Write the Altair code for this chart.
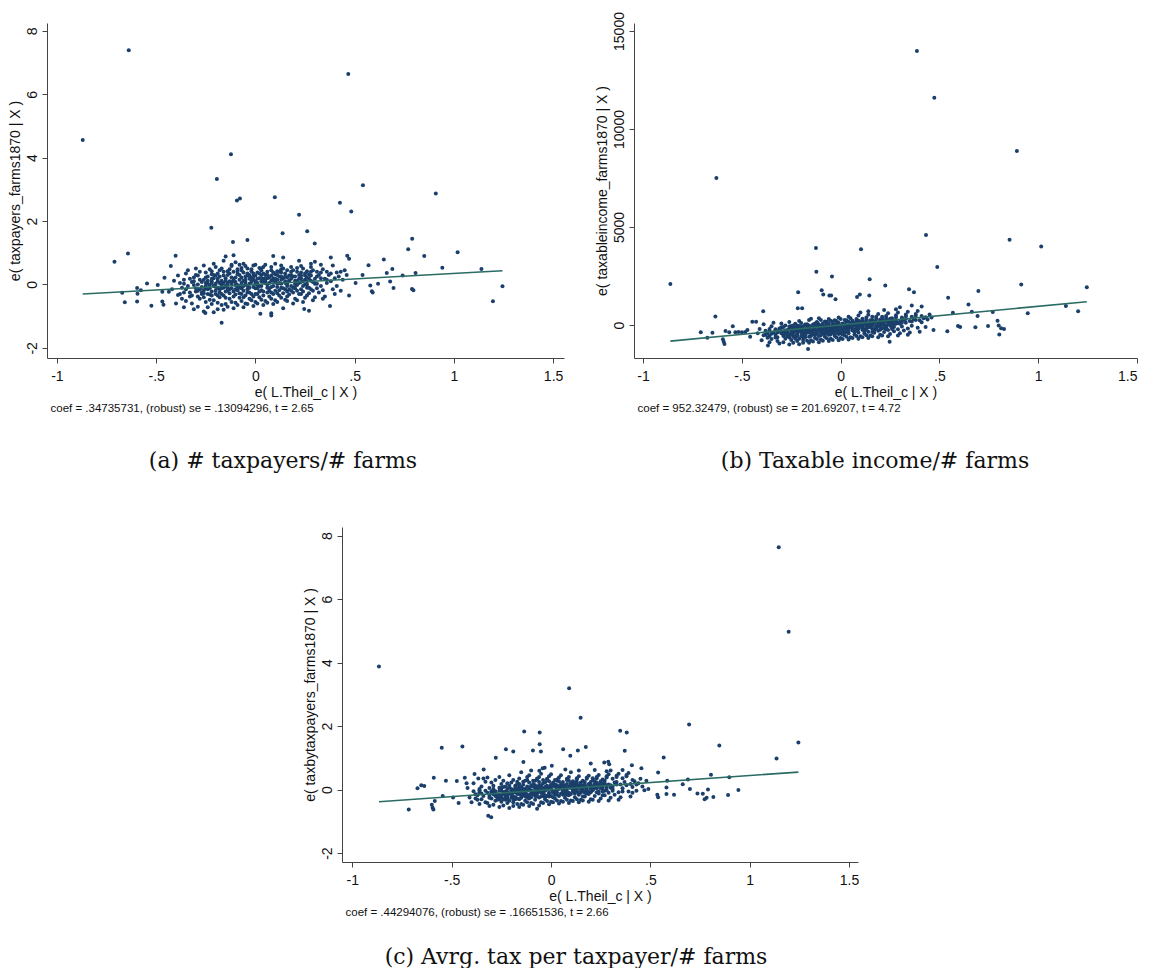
import altair as alt
import pandas as pd

NAVY = "#1a3f6b"
TEAL = "#2a6b63"
SANS = "Liberation Sans"
SERIF = "DejaVu Serif"

X_TICKS = [-1, -0.5, 0, 0.5, 1, 1.5]
X_TITLE = "e( L.Theil_c | X )"

# ---------------- panel (a) ----------------
A_COEF = 0.34735731
A_YTITLE = "e( taxpayers_farms1870 | X )"
A_YTICKS = [-2, 0, 2, 4, 6, 8]
A_CAPTION = "coef = .34735731, (robust) se = .13094296, t = 2.65"
A_LABEL = "(a) # taxpayers/# farms"
A_OUTLIERS = [
    (-0.87, 4.56), (-0.638, 7.39), (0.468, 6.64), (-0.123, 4.11), (-0.194, 3.33),
    (-0.093, 2.65), (-0.078, 2.71), (0.098, 2.75), (0.542, 3.13), (0.426, 2.58),
    (0.483, 2.30), (0.909, 2.87), (0.22, 2.20), (-0.222, 1.79), (0.137, 1.62),
    (0.261, 1.68), (-0.113, 1.34), (-0.04, 1.40), (0.299, 1.29), (0.79, 1.44),
    (0.77, 1.11), (1.019, 1.02), (0.851, 0.90), (0.647, 0.79), (0.463, 0.91),
    (0.472, 0.81), (0.570, 0.61), (0.942, 0.53), (1.139, 0.49), (0.69, 0.49),
    (0.742, 0.28), (0.807, 0.36), (0.662, 0.36), (0.679, 0.09), (0.618, 0.02),
    (0.696, -0.11), (0.579, -0.03), (0.587, -0.21), (0.591, -0.25), (0.789, -0.14),
    (0.796, -0.18), (1.245, -0.06), (1.197, -0.53), (0.54, 0.30), (0.505, 0.05),
    (0.472, -0.35), (0.376, -0.68), (0.27, -0.83), (0.246, -0.77), (0.025, -0.92),
    (0.08, -0.98), (0.08, -0.91), (-0.17, -1.21), (-0.252, -0.90), (-0.71, 0.72),
    (-0.642, 0.98), (-0.402, 0.91), (-0.426, 0.58), (-0.671, -0.26), (-0.658, -0.56),
    (-0.596, -0.11), (-0.594, -0.29), (-0.596, -0.54), (-0.546, 0.03), (-0.524, -0.67),
    (-0.492, -0.02), (-0.469, -0.23), (-0.469, -0.54), (-0.463, -0.64), (-0.458, 0.21),
    (-0.436, -0.23), (-0.577, -0.18),
]
A_CLOUD = [
    (-0.41, 0.12), (-0.39, -0.33), (-0.40, -0.60), (-0.38, 0.05), (-0.42, -0.15), (-0.37, -0.45), (-0.39, 0.28),
    (-0.36, -0.72), (-0.35, 0.35), (-0.34, -0.05), (-0.36, -0.25), (-0.33, 0.18), (-0.35, -0.52), (-0.34, 0.45),
    (-0.37, -0.10), (-0.33, -0.38), (-0.36, 0.02),
    (-0.31, -0.78), (-0.30, 0.50), (-0.29, -0.20), (-0.31, 0.10), (-0.28, -0.45), (-0.30, 0.30), (-0.32, -0.60),
    (-0.29, 0.00), (-0.27, -0.30), (-0.31, 0.22), (-0.28, 0.40), (-0.30, -0.12), (-0.29, -0.70), (-0.32, -0.35),
    (-0.26, -0.85), (-0.25, 0.38), (-0.24, -0.15), (-0.26, 0.15), (-0.23, -0.48), (-0.25, 0.05), (-0.27, -0.25),
    (-0.24, 0.25), (-0.22, -0.62), (-0.26, -0.40), (-0.23, 0.48), (-0.25, -0.05), (-0.24, -0.72), (-0.22, 0.10),
    (-0.26, 0.60), (-0.23, -0.32), (-0.25, -0.55), (-0.22, 0.32),
    (-0.21, -0.88), (-0.20, 0.55), (-0.19, -0.10), (-0.21, 0.20), (-0.18, -0.40), (-0.20, 0.02), (-0.22, -0.22),
    (-0.19, 0.35), (-0.17, -0.65), (-0.21, -0.50), (-0.18, 0.45), (-0.20, -0.30), (-0.19, -0.78), (-0.17, 0.12),
    (-0.21, 0.65), (-0.18, -0.15), (-0.20, 0.28), (-0.19, -0.58), (-0.17, -0.02), (-0.22, 0.42),
    (-0.16, 0.75), (-0.15, -0.05), (-0.14, 0.30), (-0.16, -0.35), (-0.13, 0.10), (-0.15, -0.62), (-0.17, 0.50),
    (-0.14, -0.20), (-0.12, 0.62), (-0.16, -0.80), (-0.13, -0.45), (-0.15, 0.20), (-0.14, -0.70), (-0.12, 0.02),
    (-0.16, 0.40), (-0.13, -0.28), (-0.15, 0.88), (-0.14, -0.12), (-0.12, -0.55), (-0.16, 0.05), (-0.13, 0.48),
    (-0.15, -0.42),
    (-0.11, 0.92), (-0.10, -0.02), (-0.09, 0.32), (-0.11, -0.38), (-0.08, 0.15), (-0.10, -0.58), (-0.12, 0.58),
    (-0.09, -0.18), (-0.07, 0.45), (-0.11, -0.75), (-0.08, -0.42), (-0.10, 0.22), (-0.09, -0.65), (-0.07, 0.05),
    (-0.11, 0.40), (-0.08, -0.28), (-0.10, 0.70), (-0.09, -0.08), (-0.07, -0.52), (-0.11, 0.10), (-0.08, 0.62),
    (-0.10, -0.32),
    (-0.06, 0.65), (-0.05, 0.00), (-0.04, 0.35), (-0.06, -0.40), (-0.03, 0.18), (-0.05, -0.60), (-0.07, 0.52),
    (-0.04, -0.15), (-0.02, 0.42), (-0.06, -0.72), (-0.03, -0.45), (-0.05, 0.25), (-0.04, -0.62), (-0.02, 0.08),
    (-0.06, 0.38), (-0.03, -0.25), (-0.05, 0.58), (-0.04, -0.05), (-0.02, -0.50), (-0.06, 0.12), (-0.03, 0.30),
    (-0.05, -0.35),
    (-0.01, 0.60), (0.00, 0.02), (0.01, 0.38), (-0.01, -0.38), (0.02, 0.20), (0.00, -0.55), (-0.02, 0.48),
    (0.01, -0.12), (0.03, 0.45), (-0.01, -0.68), (0.02, -0.40), (0.00, 0.28), (0.01, -0.60), (0.03, 0.10),
    (-0.01, 0.35), (0.02, -0.22), (0.00, 0.62), (0.01, -0.02), (0.03, -0.48), (-0.01, 0.15), (0.02, 0.52),
    (0.00, -0.30),
    (0.04, 0.55), (0.05, 0.05), (0.06, 0.40), (0.04, -0.35), (0.07, 0.22), (0.05, -0.52), (0.03, 0.50),
    (0.06, -0.10), (0.08, 0.45), (0.04, -0.65), (0.07, -0.38), (0.05, 0.30), (0.06, -0.58), (0.08, 0.12),
    (0.04, 0.35), (0.07, -0.20), (0.05, 0.62), (0.06, 0.00), (0.08, -0.45), (0.04, 0.18),
    (0.09, 0.90), (0.10, 0.08), (0.11, 0.42), (0.09, -0.30), (0.12, 0.25), (0.10, -0.50), (0.08, 0.55),
    (0.11, -0.08), (0.13, 0.48), (0.09, -0.62), (0.12, -0.35), (0.10, 0.32), (0.11, -0.55), (0.13, 0.15),
    (0.09, 0.38), (0.12, -0.18), (0.10, 0.65), (0.11, 0.02), (0.13, -0.42), (0.09, 0.20),
    (0.14, 0.50), (0.15, 0.10), (0.16, 0.45), (0.14, -0.28), (0.17, 0.28), (0.15, -0.48), (0.13, 0.60),
    (0.16, -0.05), (0.18, 0.40), (0.14, -0.75), (0.17, -0.32), (0.15, 0.35), (0.16, -0.52), (0.18, 0.18),
    (0.14, 0.85), (0.17, -0.15), (0.15, 0.05), (0.16, 0.22),
    (0.19, 0.45), (0.20, 0.12), (0.21, 0.40), (0.19, -0.25), (0.22, 0.30), (0.20, -0.45), (0.18, 0.55),
    (0.21, -0.02), (0.23, 0.38), (0.19, -0.60), (0.22, -0.30), (0.20, 0.25), (0.21, -0.50), (0.23, 0.20),
    (0.22, 0.75), (0.20, -0.12),
    (0.24, 0.50), (0.25, 0.15), (0.26, 0.42), (0.24, -0.22), (0.27, 0.32), (0.25, -0.42), (0.23, 0.58),
    (0.26, 0.00), (0.28, 0.40), (0.24, -0.55), (0.27, -0.28), (0.25, 0.28), (0.26, -0.10), (0.28, 0.65),
    (0.29, 0.45), (0.30, 0.18), (0.31, 0.40), (0.29, -0.20), (0.32, 0.30), (0.30, -0.40), (0.28, 0.55),
    (0.31, 0.02), (0.33, 0.38), (0.29, -0.50), (0.32, -0.25), (0.30, 0.72),
    (0.34, 0.48), (0.35, 0.18), (0.36, 0.40), (0.34, -0.18), (0.37, 0.30), (0.35, -0.38), (0.33, 0.62),
    (0.36, 0.05), (0.38, 0.35), (0.34, -0.45),
    (0.39, 0.60), (0.40, 0.20), (0.41, 0.38), (0.39, -0.15), (0.42, 0.25), (0.40, -0.30), (0.38, 0.85),
    (0.44, 0.15), (0.45, 0.45), (0.43, -0.20), (0.46, 0.30),
]
A_CORE = [
    (-0.32, 0.08), (-0.30, -0.22), (-0.28, 0.15), (-0.27, -0.08), (-0.26, -0.18), (-0.25, 0.22), (-0.24, 0.02),
    (-0.23, -0.12), (-0.22, 0.18), (-0.21, -0.05), (-0.20, -0.20), (-0.19, 0.10), (-0.18, 0.25), (-0.17, -0.30),
    (-0.16, -0.10), (-0.15, 0.12), (-0.14, 0.05), (-0.13, -0.15), (-0.12, 0.22), (-0.11, -0.22), (-0.10, 0.08),
    (-0.09, -0.02), (-0.08, 0.30), (-0.07, -0.12), (-0.06, -0.05), (-0.05, 0.15), (-0.04, -0.25), (-0.03, 0.02),
    (-0.02, 0.22), (-0.01, -0.08), (0.00, 0.10), (0.01, 0.18), (0.02, -0.05), (0.03, -0.18), (0.04, 0.08),
    (0.05, 0.18), (0.06, -0.25), (0.07, 0.05), (0.08, -0.08), (0.09, 0.12), (0.10, -0.20), (0.11, 0.15),
    (0.12, 0.05), (0.13, -0.10), (0.14, 0.20), (0.15, -0.15), (0.16, 0.02), (0.17, 0.10), (0.18, -0.05),
    (0.19, 0.25), (0.20, -0.02), (0.21, 0.12), (0.22, 0.05), (0.23, -0.15), (0.24, 0.10), (0.25, 0.00),
    (0.26, 0.22), (0.27, -0.10), (0.28, 0.12), (0.30, 0.02), (-0.29, 0.28), (-0.24, -0.30), (-0.19, -0.35),
    (-0.14, 0.42), (-0.09, 0.48), (-0.04, 0.50), (0.01, -0.30), (0.06, 0.30), (0.11, 0.30), (0.16, -0.38),
    (0.21, 0.52), (0.26, -0.35), (0.31, -0.12), (0.33, 0.20), (-0.35, -0.15), (-0.18, 0.05), (-0.08, -0.10),
    (0.03, 0.30), (0.13, 0.38), (0.23, 0.28),
]
A_CORE2 = [
    (-0.31, -0.02), (-0.29, -0.38), (-0.27, 0.08), (-0.26, -0.28), (-0.25, -0.12), (-0.24, 0.12), (-0.23, -0.02),
    (-0.22, -0.35), (-0.21, 0.30), (-0.20, -0.08), (-0.19, 0.18), (-0.18, -0.25), (-0.17, 0.02), (-0.16, 0.28),
    (-0.15, -0.22), (-0.14, -0.02), (-0.13, 0.35), (-0.12, -0.12), (-0.11, 0.18), (-0.10, -0.15), (-0.09, 0.40),
    (-0.08, -0.05), (-0.07, 0.22), (-0.06, -0.20), (-0.05, 0.08), (-0.04, 0.28), (-0.03, -0.10), (-0.02, -0.30),
    (-0.01, 0.25), (0.00, -0.12), (0.01, 0.05), (0.02, 0.35), (0.03, -0.05), (0.04, -0.22), (0.05, 0.10),
    (0.06, 0.20), (0.07, -0.12), (0.08, 0.28), (0.09, -0.05), (0.10, 0.18), (0.11, -0.28), (0.12, 0.40),
    (0.13, 0.02), (0.14, -0.12), (0.15, 0.25), (0.16, -0.22), (0.17, 0.12), (0.18, 0.30), (0.19, -0.10),
    (0.20, 0.05), (0.21, -0.20), (0.22, 0.18), (0.23, 0.08), (0.24, -0.05), (0.25, 0.35), (0.26, 0.10),
    (0.27, 0.20), (0.28, -0.15), (0.29, 0.08), (0.31, 0.25), (-0.33, -0.25), (-0.28, -0.15), (-0.22, 0.05),
    (-0.17, -0.12), (-0.12, 0.08), (-0.07, -0.30), (-0.02, 0.15), (0.03, 0.20), (0.08, -0.25), (0.13, 0.25),
    (0.18, -0.20), (0.23, -0.30), (0.28, 0.28), (0.33, -0.05), (0.36, 0.15), (-0.38, -0.30), (-0.36, 0.15),
    (0.38, 0.10), (0.41, -0.05), (0.43, 0.40),
]

# ---------------- panel (b) ----------------
B_COEF = 952.32479
B_YTITLE = "e( taxableincome_farms1870 | X )"
B_YTICKS = [0, 5000, 10000, 15000]
B_CAPTION = "coef = 952.32479, (robust) se = 201.69207, t = 4.72"
B_LABEL = "(b) Taxable income/# farms"
B_OUTLIERS = [
    (0.386, 13980), (0.474, 11600), (0.892, 8880), (-0.629, 7500), (0.432, 4590),
    (0.855, 4350), (1.015, 4010), (-0.125, 3930), (0.103, 3860), (0.489, 2960),
    (-0.123, 2720), (-0.044, 2470), (0.147, 2330), (-0.862, 2090), (0.914, 2070),
    (0.226, 2020), (1.246, 1920), (-0.215, 1670), (-0.096, 1770), (0.346, 1820),
    (0.371, 1670), (0.697, 1730), (0.544, 1390), (0.097, 1560), (0.083, 1430),
    (0.145, 1510), (-0.088, 1560), (-0.057, 1510), (-0.048, 1510), (-0.026, 1310),
    (0.647, 1050), (1.14, 970), (1.202, 700), (0.947, 600), (0.77, 660),
    (0.664, 680), (0.693, 460), (0.568, 630), (0.794, 220), (0.80, -30),
    (0.803, -480), (0.746, -50), (0.812, -170), (0.827, -200), (0.682, -120),
    (0.594, -50), (0.605, -100), (0.54, -320), (0.248, -850), (-0.165, -1220),
    (-0.368, -1050), (-0.392, 700), (-0.634, 430), (-0.708, -370), (-0.675, -650),
    (-0.649, -390), (-0.596, -730), (-0.592, -850), (-0.588, -970), (-0.546, -70),
    (-0.583, -310), (-0.564, -370), (-0.533, -370), (-0.517, -360), (-0.50, -370),
    (-0.483, -360), (-0.458, -600), (-0.472, -250), (-0.447, 170), (-0.428, 170),
    (-0.195, 850), (-0.217, 850),
]
B_CLOUD = [
    (-0.41, -200), (-0.39, -520), (-0.40, -780), (-0.38, -300), (-0.42, -420), (-0.37, -650), (-0.39, 40),
    (-0.36, -880), (-0.35, -60), (-0.34, -380), (-0.36, -560), (-0.33, -220), (-0.35, -720), (-0.34, 120),
    (-0.37, -430), (-0.33, -640), (-0.36, -300),
    (-0.31, -950), (-0.30, 80), (-0.29, -480), (-0.31, -250), (-0.28, -700), (-0.30, -120), (-0.32, -820),
    (-0.29, -330), (-0.27, -580), (-0.31, -180), (-0.28, -20), (-0.30, -420), (-0.29, -880), (-0.32, -620),
    (-0.26, -1000), (-0.25, -50), (-0.24, -420), (-0.26, -200), (-0.23, -700), (-0.25, -300), (-0.27, -520),
    (-0.24, -120), (-0.22, -820), (-0.26, -640), (-0.23, 60), (-0.25, -380), (-0.24, -900), (-0.22, -260),
    (-0.26, 150), (-0.23, -580), (-0.25, -760), (-0.22, -100),
    (-0.21, -980), (-0.20, 100), (-0.19, -380), (-0.21, -160), (-0.18, -640), (-0.20, -300), (-0.22, -480),
    (-0.19, -60), (-0.17, -800), (-0.21, -700), (-0.18, 30), (-0.20, -560), (-0.19, -900), (-0.17, -240),
    (-0.21, 200), (-0.18, -420), (-0.20, -120), (-0.19, -760), (-0.17, -340), (-0.22, -20),
    (-0.16, 250), (-0.15, -320), (-0.14, -80), (-0.16, -600), (-0.13, -220), (-0.15, -780), (-0.17, 40),
    (-0.14, -460), (-0.12, 150), (-0.16, -900), (-0.13, -660), (-0.15, -160), (-0.14, -840), (-0.12, -300),
    (-0.16, -20), (-0.13, -520), (-0.15, 320), (-0.14, -380), (-0.12, -720), (-0.16, -260), (-0.13, 80),
    (-0.15, -560),
    (-0.11, 350), (-0.10, -260), (-0.09, -20), (-0.11, -560), (-0.08, -180), (-0.10, -740), (-0.12, 120),
    (-0.09, -420), (-0.07, 60), (-0.11, -880), (-0.08, -600), (-0.10, -120), (-0.09, -800), (-0.07, -300),
    (-0.11, 40), (-0.08, -480), (-0.10, 260), (-0.09, -340), (-0.07, -680), (-0.11, -200), (-0.08, 180),
    (-0.10, -520),
    (-0.06, 300), (-0.05, -200), (-0.04, 20), (-0.06, -500), (-0.03, -120), (-0.05, -700), (-0.07, 160),
    (-0.04, -380), (-0.02, 100), (-0.06, -820), (-0.03, -560), (-0.05, -60), (-0.04, -760), (-0.02, -260),
    (-0.06, 80), (-0.03, -440), (-0.05, 220), (-0.04, -300), (-0.02, -640), (-0.06, -160), (-0.03, 240),
    (-0.05, -480),
    (-0.01, 380), (0.00, -150), (0.01, 80), (-0.01, -460), (0.02, -60), (0.00, -660), (-0.02, 200),
    (0.01, -320), (0.03, 160), (-0.01, -780), (0.02, -520), (0.00, -20), (0.01, -720), (0.03, -200),
    (-0.01, 120), (0.02, -400), (0.00, 300), (0.01, -260), (0.03, -600), (-0.01, -100), (0.02, 260),
    (0.00, -440),
    (0.04, 420), (0.05, -100), (0.06, 140), (0.04, -420), (0.07, 0), (0.05, -620), (0.03, 240),
    (0.06, -280), (0.08, 220), (0.04, -740), (0.07, -480), (0.05, 40), (0.06, -660), (0.08, -160),
    (0.04, 160), (0.07, -360), (0.05, 340), (0.06, -200), (0.08, -560), (0.04, -60),
    (0.09, 480), (0.10, -40), (0.11, 200), (0.09, -380), (0.12, 60), (0.10, -580), (0.08, 300),
    (0.11, -240), (0.13, 280), (0.09, -700), (0.12, -440), (0.10, 100), (0.11, -620), (0.13, -120),
    (0.09, 220), (0.12, -320), (0.10, 640), (0.11, -160), (0.13, -520), (0.09, -20),
    (0.14, 520), (0.15, 20), (0.16, 260), (0.14, -340), (0.17, 120), (0.15, -540), (0.13, 380),
    (0.16, -200), (0.18, 320), (0.14, -660), (0.17, -400), (0.15, 160), (0.16, -580), (0.18, -80),
    (0.14, 700), (0.17, -280), (0.15, -40), (0.16, 420),
    (0.19, 560), (0.20, 80), (0.21, 300), (0.19, -300), (0.22, 180), (0.20, -500), (0.18, 420),
    (0.21, -160), (0.23, 360), (0.19, -620), (0.22, -360), (0.20, 220), (0.21, -540), (0.23, -40),
    (0.22, 760), (0.20, -240),
    (0.24, 600), (0.25, 120), (0.26, 340), (0.24, -260), (0.27, 220), (0.25, -460), (0.23, 460),
    (0.26, -120), (0.28, 400), (0.24, -580), (0.27, -320), (0.25, 260), (0.26, -40), (0.28, 800),
    (0.29, 640), (0.30, 160), (0.31, 380), (0.29, -220), (0.32, 260), (0.30, -420), (0.28, 500),
    (0.31, -80), (0.33, 440), (0.29, -540), (0.32, -280), (0.30, 900),
    (0.34, 680), (0.35, 200), (0.36, 420), (0.34, -180), (0.37, 300), (0.35, -380), (0.33, 540),
    (0.36, -40), (0.38, 480), (0.34, -500), (0.36, 1000),
    (0.39, 720), (0.40, 240), (0.41, 460), (0.39, -140), (0.42, 340), (0.40, -340), (0.38, 560),
    (0.41, 940), (0.44, 280), (0.45, 540), (0.43, -100), (0.46, 380), (0.47, -260),
]
B_CORE = [
    (-0.32, -380), (-0.30, -150), (-0.28, -420), (-0.27, -250), (-0.26, -80), (-0.25, -480), (-0.24, -260),
    (-0.23, -150), (-0.22, -400), (-0.21, -300), (-0.20, -180), (-0.19, -480), (-0.18, -260), (-0.17, -100),
    (-0.16, -380), (-0.15, -220), (-0.14, -300), (-0.13, -120), (-0.12, -420), (-0.11, -260), (-0.10, -60),
    (-0.09, -200), (-0.08, -340), (-0.07, -140), (-0.06, -240), (-0.05, -380), (-0.04, -100), (-0.03, -260),
    (-0.02, -20), (-0.01, -300), (0.00, -100), (0.01, -220), (0.02, 40), (0.03, -340), (0.04, -140),
    (0.05, -20), (0.06, -260), (0.07, 100), (0.08, -80), (0.09, -200), (0.10, 0), (0.11, -80),
    (0.12, 140), (0.13, -220), (0.14, 80), (0.15, -120), (0.16, 40), (0.17, 180), (0.18, -160),
    (0.19, 100), (0.20, -60), (0.21, 140), (0.22, 20), (0.23, -120), (0.24, 200), (0.25, -40),
    (0.26, 160), (0.27, 40), (0.28, 240), (0.30, 60), (-0.29, -560), (-0.24, -600), (-0.19, -640),
    (-0.14, 20), (-0.09, 80), (-0.04, 160), (0.01, -480), (0.06, 220), (0.11, 320), (0.16, -360),
    (0.21, 420), (0.26, -200), (0.31, 120), (0.33, 300), (-0.35, -450), (-0.18, -340), (-0.08, -60),
    (0.03, -60), (0.13, 60), (0.23, 260),
]
B_CORE2 = [
    (-0.31, -300), (-0.29, -100), (-0.27, -350), (-0.26, -480), (-0.25, -200), (-0.24, -20), (-0.23, -300),
    (-0.22, -560), (-0.21, -50), (-0.20, -400), (-0.19, -200), (-0.18, -520), (-0.17, -180), (-0.16, -120),
    (-0.15, -440), (-0.14, -200), (-0.13, -20), (-0.12, -360), (-0.11, -100), (-0.10, -400), (-0.09, -120),
    (-0.08, -260), (-0.07, -20), (-0.06, -380), (-0.05, -120), (-0.04, -220), (-0.03, 20), (-0.02, -400),
    (-0.01, -40), (0.00, -240), (0.01, 20), (0.02, -180), (0.03, -40), (0.04, -300), (0.05, 120),
    (0.06, -60), (0.07, -220), (0.08, 60), (0.09, -120), (0.10, 180), (0.11, -40), (0.12, -240),
    (0.13, 120), (0.14, -100), (0.15, 240), (0.16, -20), (0.17, -200), (0.18, 160), (0.19, -60),
    (0.20, 280), (0.21, 40), (0.22, -140), (0.23, 200), (0.24, 60), (0.25, 320), (0.26, 80),
    (0.27, -100), (0.28, 220), (0.29, 100), (0.31, 280), (-0.33, -500), (-0.28, -280), (-0.22, -200),
    (-0.17, -400), (-0.12, -60), (-0.07, -420), (-0.02, -160), (0.03, -260), (0.08, -300), (0.13, -60),
    (0.18, -40), (0.23, -220), (0.28, 60), (0.33, 120), (0.36, 180), (-0.38, -500), (-0.36, -200),
    (0.38, 260), (0.41, 140), (0.43, 400),
]

# ---------------- panel (c) ----------------
C_COEF = 0.44294076
C_YTITLE = "e( taxbytaxpayers_farms1870 | X )"
C_YTICKS = [-2, 0, 2, 4, 6, 8]
C_CAPTION = "coef = .44294076, (robust) se = .16651536, t = 2.66"
C_LABEL = "(c) Avrg. tax per taxpayer/# farms"
C_OUTLIERS = [
    (1.146, 7.63), (1.196, 4.97), (-0.866, 3.88), (0.091, 3.19), (0.149, 2.26),
    (0.695, 2.05), (-0.135, 1.83), (-0.057, 1.80), (0.348, 1.85), (0.381, 1.80),
    (1.245, 1.48), (-0.057, 1.43), (-0.55, 1.32), (-0.446, 1.36), (0.847, 1.39),
    (-0.227, 1.27), (-0.19, 1.20), (-0.091, 1.23), (-0.051, 1.20), (0.061, 1.27),
    (0.135, 1.23), (0.175, 1.34), (0.371, 1.22), (-0.278, 1.00), (0.567, 1.01),
    (1.135, 0.98), (0.097, 1.07), (-0.139, 0.87), (0.268, 0.85), (0.288, 0.88),
    (0.293, 0.80), (0.20, 0.82), (-0.339, 0.63), (-0.059, 0.59), (-0.042, 0.67),
    (-0.032, 0.69), (0.004, 0.75), (0.072, 0.63), (0.407, 0.77), (0.455, 0.67),
    (0.539, 0.54), (0.805, 0.47), (0.897, 0.39), (0.689, 0.32), (0.585, 0.28),
    (0.581, 0.07), (0.943, -0.01), (0.663, 0.17), (0.699, 0.02), (0.619, -0.16),
    (0.581, -0.14), (0.737, -0.12), (0.764, -0.13), (0.79, 0.00), (0.783, -0.26),
    (0.773, -0.30), (0.817, -0.23), (0.891, -0.17), (0.539, -0.24), (0.535, -0.16),
    (-0.316, -0.82), (-0.301, -0.87), (-0.716, -0.63), (-0.60, -0.48), (-0.596, -0.57),
    (-0.592, -0.63), (-0.672, 0.04), (-0.653, 0.14), (-0.638, 0.11), (-0.59, 0.37),
    (-0.529, 0.28), (-0.545, -0.20), (-0.493, -0.25), (-0.465, -0.42), (-0.585, -0.36),
    (-0.474, 0.27), (-0.434, 0.37), (-0.425, 0.20), (-0.385, 0.49), (-0.366, 0.35),
]
C_CLOUD = [
    (-0.41, -0.25), (-0.39, -0.05), (-0.40, -0.40), (-0.38, -0.15), (-0.42, 0.05), (-0.37, -0.32), (-0.39, 0.20),
    (-0.36, -0.45), (-0.35, 0.10), (-0.34, -0.20), (-0.36, -0.08), (-0.33, 0.25), (-0.35, -0.30), (-0.34, 0.35),
    (-0.37, -0.18), (-0.33, -0.40), (-0.36, 0.02),
    (-0.31, -0.52), (-0.30, 0.22), (-0.29, -0.15), (-0.31, 0.05), (-0.28, -0.35), (-0.30, -0.05), (-0.32, -0.42),
    (-0.29, 0.12), (-0.27, -0.25), (-0.31, -0.20), (-0.28, 0.30), (-0.30, -0.10), (-0.29, -0.48), (-0.32, 0.38),
    (-0.26, -0.55), (-0.25, 0.18), (-0.24, -0.12), (-0.26, 0.06), (-0.23, -0.32), (-0.25, -0.02), (-0.27, -0.22),
    (-0.24, 0.28), (-0.22, -0.42), (-0.26, -0.30), (-0.23, 0.10), (-0.25, -0.18), (-0.24, -0.50), (-0.22, -0.08),
    (-0.26, 0.40), (-0.23, -0.26), (-0.25, -0.38), (-0.22, 0.20),
    (-0.21, -0.58), (-0.20, 0.22), (-0.19, -0.10), (-0.21, 0.08), (-0.18, -0.30), (-0.20, -0.02), (-0.22, -0.20),
    (-0.19, 0.30), (-0.17, -0.45), (-0.21, -0.35), (-0.18, 0.12), (-0.20, -0.15), (-0.19, -0.52), (-0.17, -0.06),
    (-0.21, 0.45), (-0.18, -0.24), (-0.20, 0.02), (-0.19, -0.40), (-0.17, 0.18), (-0.22, -0.28),
    (-0.16, 0.35), (-0.15, -0.08), (-0.14, 0.15), (-0.16, -0.30), (-0.13, 0.02), (-0.15, -0.45), (-0.17, 0.25),
    (-0.14, -0.18), (-0.12, 0.40), (-0.16, -0.55), (-0.13, -0.35), (-0.15, 0.08), (-0.14, -0.48), (-0.12, -0.04),
    (-0.16, 0.18), (-0.13, -0.22), (-0.15, 0.55), (-0.14, -0.12), (-0.12, -0.40), (-0.16, -0.02), (-0.13, 0.28),
    (-0.15, -0.26),
    (-0.11, 0.45), (-0.10, -0.05), (-0.09, 0.18), (-0.11, -0.28), (-0.08, 0.05), (-0.10, -0.42), (-0.12, 0.30),
    (-0.09, -0.15), (-0.07, 0.35), (-0.11, -0.52), (-0.08, -0.32), (-0.10, 0.12), (-0.09, -0.45), (-0.07, -0.02),
    (-0.11, 0.22), (-0.08, -0.20), (-0.10, 0.60), (-0.09, -0.10), (-0.07, -0.60), (-0.11, 0.02), (-0.08, 0.28),
    (-0.10, -0.24),
    (-0.06, 0.40), (-0.05, -0.02), (-0.04, 0.20), (-0.06, -0.25), (-0.03, 0.08), (-0.05, -0.40), (-0.07, 0.32),
    (-0.04, -0.12), (-0.02, 0.30), (-0.06, -0.50), (-0.03, -0.30), (-0.05, 0.14), (-0.04, -0.42), (-0.02, 0.00),
    (-0.06, 0.24), (-0.03, -0.18), (-0.05, 0.50), (-0.04, -0.06), (-0.02, -0.36), (-0.06, 0.04), (-0.03, 0.22),
    (-0.05, -0.22),
    (-0.01, 0.42), (0.00, 0.00), (0.01, 0.22), (-0.01, -0.22), (0.02, 0.10), (0.00, -0.38), (-0.02, 0.34),
    (0.01, -0.10), (0.03, 0.28), (-0.01, -0.46), (0.02, -0.28), (0.00, 0.16), (0.01, -0.40), (0.03, 0.02),
    (-0.01, 0.26), (0.02, -0.16), (0.00, 0.48), (0.01, -0.04), (0.03, -0.34), (-0.01, 0.06), (0.02, 0.30),
    (0.00, -0.20),
    (0.04, 0.38), (0.05, 0.04), (0.06, 0.24), (0.04, -0.20), (0.07, 0.12), (0.05, -0.36), (0.03, 0.32),
    (0.06, -0.08), (0.08, 0.30), (0.04, -0.44), (0.07, -0.26), (0.05, 0.18), (0.06, -0.38), (0.08, 0.04),
    (0.04, 0.26), (0.07, -0.14), (0.05, 0.45), (0.06, -0.02), (0.08, -0.32), (0.04, 0.08),
    (0.09, 0.40), (0.10, 0.06), (0.11, 0.26), (0.09, -0.18), (0.12, 0.14), (0.10, -0.34), (0.08, 0.34),
    (0.11, -0.06), (0.13, 0.32), (0.09, -0.42), (0.12, -0.24), (0.10, 0.20), (0.11, -0.36), (0.13, 0.06),
    (0.09, 0.28), (0.12, -0.12), (0.10, 0.55), (0.11, 0.00), (0.13, -0.30), (0.09, 0.10),
    (0.14, 0.42), (0.15, 0.08), (0.16, 0.28), (0.14, -0.16), (0.17, 0.16), (0.15, -0.32), (0.13, 0.36),
    (0.16, -0.04), (0.18, 0.34), (0.14, -0.40), (0.17, -0.22), (0.15, 0.22), (0.16, -0.34), (0.18, 0.08),
    (0.14, 0.60), (0.17, -0.10), (0.15, 0.00), (0.16, 0.12),
    (0.19, 0.44), (0.20, 0.10), (0.21, 0.30), (0.19, -0.14), (0.22, 0.18), (0.20, -0.30), (0.18, 0.38),
    (0.21, -0.02), (0.23, 0.36), (0.19, -0.38), (0.22, -0.20), (0.20, 0.24), (0.21, -0.32), (0.23, 0.10),
    (0.22, 0.62), (0.20, -0.08),
    (0.24, 0.46), (0.25, 0.12), (0.26, 0.32), (0.24, -0.12), (0.27, 0.20), (0.25, -0.28), (0.23, 0.40),
    (0.26, 0.00), (0.28, 0.38), (0.24, -0.36), (0.27, -0.18), (0.25, 0.26), (0.26, -0.06), (0.28, 0.58),
    (0.29, 0.48), (0.30, 0.14), (0.31, 0.34), (0.29, -0.10), (0.32, 0.22), (0.30, -0.26), (0.28, 0.42),
    (0.31, 0.02), (0.33, 0.40), (0.29, -0.34), (0.32, -0.16), (0.30, 0.60),
    (0.34, 0.50), (0.35, 0.16), (0.36, 0.36), (0.34, -0.08), (0.37, 0.24), (0.35, -0.24), (0.33, 0.44),
    (0.36, 0.04), (0.38, 0.42), (0.34, -0.32), (0.36, 0.62),
    (0.39, 0.52), (0.40, 0.18), (0.41, 0.30), (0.39, -0.06), (0.42, 0.26), (0.40, -0.22), (0.38, 0.46),
    (0.41, 0.08), (0.44, 0.20), (0.45, 0.34), (0.43, -0.04), (0.46, 0.10), (0.47, -0.02), (0.48, 0.28),
    (0.49, 0.02),
]
C_CORE = [
    (-0.32, -0.10), (-0.30, -0.28), (-0.28, -0.05), (-0.27, -0.15), (-0.26, -0.20), (-0.25, 0.05), (-0.24, -0.08),
    (-0.23, -0.18), (-0.22, 0.02), (-0.21, -0.12), (-0.20, -0.25), (-0.19, -0.02), (-0.18, 0.06), (-0.17, -0.28),
    (-0.16, -0.14), (-0.15, 0.00), (-0.14, -0.06), (-0.13, -0.16), (-0.12, 0.10), (-0.11, -0.18), (-0.10, -0.02),
    (-0.09, -0.08), (-0.08, 0.14), (-0.07, -0.12), (-0.06, -0.06), (-0.05, 0.06), (-0.04, -0.20), (-0.03, -0.04),
    (-0.02, 0.12), (-0.01, -0.10), (0.00, 0.06), (0.01, 0.12), (0.02, -0.06), (0.03, -0.16), (0.04, 0.02),
    (0.05, 0.12), (0.06, -0.16), (0.07, 0.04), (0.08, -0.06), (0.09, 0.06), (0.10, -0.14), (0.11, 0.10),
    (0.12, 0.02), (0.13, -0.06), (0.14, 0.14), (0.15, -0.10), (0.16, 0.04), (0.17, 0.08), (0.18, -0.02),
    (0.19, 0.18), (0.20, 0.02), (0.21, 0.10), (0.22, 0.06), (0.23, -0.08), (0.24, 0.12), (0.25, 0.04),
    (0.26, 0.18), (0.27, -0.04), (0.28, 0.12), (0.30, 0.06), (-0.29, 0.02), (-0.24, -0.30), (-0.19, -0.32),
    (-0.14, 0.25), (-0.09, 0.28), (-0.04, 0.30), (0.01, -0.24), (0.06, 0.16), (0.11, 0.18), (0.16, -0.22),
    (0.21, 0.36), (0.26, -0.18), (0.31, -0.04), (0.33, 0.16), (-0.35, -0.12), (-0.18, -0.08), (-0.08, -0.14),
    (0.03, 0.14), (0.13, 0.22), (0.23, 0.20),
]
C_CORE2 = [
    (-0.31, -0.26), (-0.29, -0.08), (-0.27, -0.32), (-0.26, -0.04), (-0.25, -0.24), (-0.24, 0.08), (-0.23, -0.06),
    (-0.22, -0.30), (-0.21, 0.12), (-0.20, -0.10), (-0.19, -0.22), (-0.18, 0.00), (-0.17, -0.14), (-0.16, 0.08),
    (-0.15, -0.20), (-0.14, 0.02), (-0.13, -0.10), (-0.12, -0.26), (-0.11, 0.06), (-0.10, -0.12), (-0.09, 0.10),
    (-0.08, -0.02), (-0.07, -0.22), (-0.06, 0.14), (-0.05, -0.10), (-0.04, 0.04), (-0.03, -0.24), (-0.02, 0.06),
    (-0.01, -0.14), (0.00, 0.12), (0.01, -0.06), (0.02, 0.16), (0.03, -0.08), (0.04, 0.10), (0.05, -0.12),
    (0.06, 0.08), (0.07, -0.04), (0.08, 0.18), (0.09, -0.10), (0.10, 0.14), (0.11, -0.04), (0.12, 0.22),
    (0.13, 0.00), (0.14, -0.10), (0.15, 0.16), (0.16, -0.02), (0.17, 0.24), (0.18, 0.02), (0.19, -0.08),
    (0.20, 0.16), (0.21, 0.00), (0.22, 0.26), (0.23, 0.04), (0.24, -0.06), (0.25, 0.20), (0.26, 0.08),
    (0.27, 0.28), (0.28, -0.02), (0.29, 0.16), (0.31, 0.10), (-0.33, -0.04), (-0.28, -0.20), (-0.22, -0.12),
    (-0.17, 0.04), (-0.12, -0.16), (-0.07, 0.08), (-0.02, -0.20), (0.03, 0.06), (0.08, -0.16), (0.13, 0.12),
    (0.18, -0.12), (0.23, 0.22), (0.28, 0.06), (0.33, 0.24), (0.36, -0.06), (-0.38, -0.28), (-0.36, -0.02),
    (0.38, 0.14), (0.41, -0.10), (0.43, 0.16),
]

PLOT_H = 335


def panel(points, coef, xdom, ydom, yticks, ytitle, caption, label, width,
          label_cx, label_y, flush=False):
    df = pd.DataFrame(points, columns=["x", "y"])
    xs = [min(df["x"]), max(df["x"])]
    line_df = pd.DataFrame({"x": xs, "y": [coef * v for v in xs]})
    xscale = alt.Scale(domain=xdom, nice=False, zero=False)
    yscale = alt.Scale(domain=ydom, nice=False, zero=False)
    xaxis = alt.Axis(values=X_TICKS, title=X_TITLE, grid=False,
                     labelExpr="replace(toString(datum.value), '0.', '.')",
                     labelFlush=flush, tickSize=5, labelPadding=6, titlePadding=2,
                     domainColor="#444", tickColor="#444", labelColor="#111",
                     titleColor="#111", labelFont=SANS, titleFont=SANS,
                     labelFontSize=14, titleFontSize=14, titleFontWeight="normal")
    yaxis = alt.Axis(values=yticks, title=ytitle, grid=False,
                     labelExpr="toString(datum.value)",
                     labelAngle=270, labelAlign="center", labelBaseline="alphabetic",
                     tickSize=5, labelPadding=5.5, titlePadding=3,
                     domainColor="#444", tickColor="#444", labelColor="#111",
                     titleColor="#111", labelFont=SANS, titleFont=SANS,
                     labelFontSize=14, titleFontSize=14, titleFontWeight="normal")
    pts = alt.Chart(df).mark_circle(size=16, color=NAVY, opacity=1).encode(
        x=alt.X("x:Q", scale=xscale, axis=xaxis),
        y=alt.Y("y:Q", scale=yscale, axis=yaxis),
    )
    line = alt.Chart(line_df).mark_line(color=TEAL, strokeWidth=1.6).encode(
        x=alt.X("x:Q", scale=xscale), y=alt.Y("y:Q", scale=yscale)
    )
    cap = alt.Chart(pd.DataFrame({"t": [caption]})).mark_text(
        align="left", baseline="middle", font=SANS, fontSize=11.5, color="#111"
    ).encode(x=alt.value(3.5), y=alt.value(PLOT_H + 51), text="t:N")
    lab = alt.Chart(pd.DataFrame({"t": [label]})).mark_text(
        align="center", baseline="middle", font=SERIF, fontSize=22, color="#111"
    ).encode(x=alt.value(label_cx), y=alt.value(label_y), text="t:N")
    return alt.layer(pts, line, cap, lab).properties(width=width, height=PLOT_H)


pa = panel(A_OUTLIERS + A_CLOUD + A_CORE + A_CORE2, A_COEF, [-1.05, 1.555], [-2.32, 8.25],
           A_YTICKS, A_YTITLE, A_CAPTION, A_LABEL, 517, 236, 438)
pb = panel(B_OUTLIERS + B_CLOUD + B_CORE + B_CORE2, B_COEF, [-1.046, 1.5], [-1684, 15408],
           B_YTICKS, B_YTITLE, B_CAPTION, B_LABEL, 503, 241, 438, flush=True)
pc = panel(C_OUTLIERS + C_CLOUD + C_CORE + C_CORE2, C_COEF, [-1.052, 1.545], [-2.28, 8.27],
           C_YTICKS, C_YTITLE, C_CAPTION, C_LABEL, 516, 234, 430)

spacer = alt.Chart(pd.DataFrame({"v": [0]})).mark_point(opacity=0).encode(
    x=alt.X("v:Q", axis=None), y=alt.Y("v:Q", axis=None)
).properties(width=295, height=10)

row1 = alt.hconcat(pa, pb, spacing=70, bounds="flush")
row2 = alt.hconcat(spacer, pc, spacing=0, bounds="flush")
chart = alt.vconcat(row1, row2, spacing=55).properties(
    padding={"left": 0, "top": 3, "right": 0, "bottom": 0}
).configure_view(strokeWidth=0, stroke="transparent")

chart.save("out.html", embed_options={"renderer": "svg", "actions": False})
